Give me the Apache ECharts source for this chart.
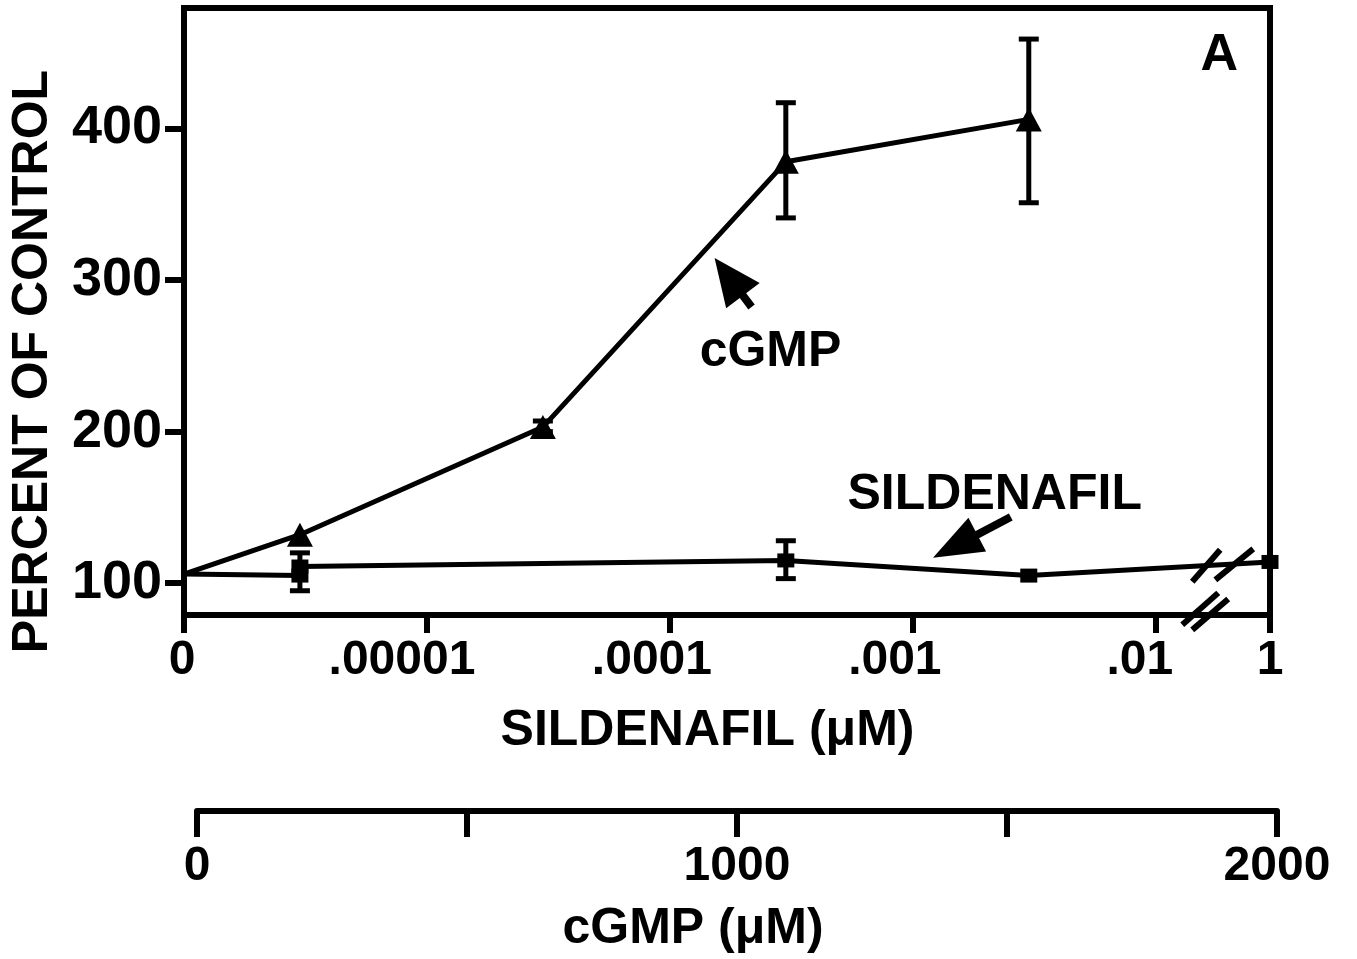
<!DOCTYPE html>
<html><head><meta charset="utf-8">
<script src="https://cdn.jsdelivr.net/npm/echarts@6/dist/echarts.min.js"></script>
<style>html,body{margin:0;padding:0;background:#fff}#c{width:1357px;height:959px}</style>
</head><body><div id="c"></div>
<script>
// ---------- data ----------
const sildTickConc   = [0, 1e-5, 1e-4, 1e-3, 1e-2, 1];
const sildTickLabels = ['0', '.00001', '.0001', '.001', '.01', '1'];
const yTicks = [100, 200, 300, 400];

const cgmpConc    = [0, 3e-6, 3e-5, 3e-4, 3e-3];
const cgmpMean    = [106, 132, 203, 378, 406];
const cgmpErrLow  = [null, null, 200, 341, 351];
const cgmpErrHigh = [null, null, 207, 417, 459];

const sildConc    = [0, 3e-6, 3e-6, 3e-4, 3e-3, 1];
const sildMean    = [106, 105, 111, 115, 105, 114];
const sildErrLow  = [null, 95, null, 103, null, null];
const sildErrHigh = [null, 120, null, 128, null, null];

const cgmpAxisTicks  = [0, 500, 1000, 1500, 2000];
const cgmpAxisLabels = [0, 1000, 2000];

// ---------- axis mapping (broken log axis) ----------
const X_ZERO = -6, X_ONE = -1.53;
function xpos(c) { return c === 0 ? X_ZERO : (c >= 1 ? X_ONE : Math.log10(c)); }

const FONT = '"Liberation Sans", Arial, Helvetica, sans-serif';
const BLACK = '#000';
const labelShift = [2, 25, 18, 18, 16, 0];
const rich = {};
labelShift.forEach((s, i) => {
  rich['s' + i] = {fontSize: 48, fontWeight: 'bold', fontFamily: FONT, color: BLACK, padding: [0, 2 * s, 0, 0]};
});

function lineData(conc, mean) {
  return conc.map((c, i) => c === 0 ? {value: [xpos(c), mean[i]], symbol: 'none'} : [xpos(c), mean[i]]);
}
function errData(conc, lo, hi) {
  const out = [];
  conc.forEach((c, i) => { if (lo[i] != null) out.push([xpos(c), lo[i], hi[i]]); });
  return out;
}
function errRender(params, api) {
  const x = api.value(0);
  const a = api.coord([x, api.value(1)]);
  const b = api.coord([x, api.value(2)]);
  const hw = 10;
  const st = {stroke: BLACK, lineWidth: 5};
  return {type: 'group', children: [
    {type: 'line', shape: {x1: a[0], y1: a[1], x2: b[0], y2: b[1]}, style: st},
    {type: 'line', shape: {x1: a[0] - hw, y1: a[1], x2: a[0] + hw, y2: a[1]}, style: st},
    {type: 'line', shape: {x1: b[0] - hw, y1: b[1], x2: b[0] + hw, y2: b[1]}, style: st}
  ]};
}

const chart = echarts.init(document.getElementById('c'), null, {renderer: 'canvas'});
const axisFont = {fontSize: 48, fontWeight: 'bold', fontFamily: FONT, color: BLACK};
const titleFont = {fontSize: 50, fontWeight: 'bold', fontFamily: FONT, color: BLACK};

const option = {
  backgroundColor: '#fff',
  animation: false,
  grid: [
    {left: 181, top: 8, width: 1089, height: 607, show: true, borderColor: BLACK, borderWidth: 6, backgroundColor: 'transparent'},
    {left: 197, top: 700, width: 1080, height: 111, show: false}
  ],
  xAxis: [
    {
      type: 'value', gridIndex: 0, min: X_ZERO, max: X_ONE,
      axisLine: {show: true, onZero: false, lineStyle: {color: BLACK, width: 6}},
      axisTick: {show: true, length: 18, lineStyle: {color: BLACK, width: 6}, customValues: sildTickConc.map(xpos)},
      axisLabel: {
        show: true, margin: 22, customValues: sildTickConc.map(xpos), rich: rich,
        formatter: function (v) {
          const i = sildTickConc.findIndex(c => Math.abs(xpos(c) - v) < 1e-6);
          return i < 0 ? '' : '{s' + i + '|' + sildTickLabels[i] + '}';
        }
      },
      splitLine: {show: false},
      name: 'SILDENAFIL (\u03bcM)', nameLocation: 'middle', nameGap: 91,
      nameTextStyle: Object.assign({}, titleFont, {padding: [0, 39, 0, 0]})
    },
    {
      type: 'value', gridIndex: 1, min: 0, max: 2000, position: 'bottom',
      axisLine: {show: true, onZero: false, lineStyle: {color: BLACK, width: 6}},
      axisTick: {show: true, length: 26, lineStyle: {color: BLACK, width: 6}, customValues: cgmpAxisTicks},
      axisLabel: Object.assign({show: true, margin: 32, customValues: cgmpAxisLabels, formatter: v => String(v)}, axisFont),
      splitLine: {show: false},
      name: 'cGMP (\u03bcM)', nameLocation: 'middle', nameGap: 93,
      nameTextStyle: Object.assign({}, titleFont, {padding: [0, 88, 0, 0]})
    }
  ],
  yAxis: [
    {
      type: 'value', gridIndex: 0, min: 79, max: 479.5,
      axisLine: {show: true, onZero: false, lineStyle: {color: BLACK, width: 6}},
      axisTick: {show: true, length: 19, lineStyle: {color: BLACK, width: 6}, customValues: yTicks},
      axisLabel: Object.assign({show: true, margin: 22, customValues: yTicks}, axisFont, {fontSize: 54}),
      splitLine: {show: false},
      name: 'PERCENT OF CONTROL', nameLocation: 'middle', nameGap: 126,
      nameTextStyle: Object.assign({}, titleFont, {padding: [0, 100, 0, 0]})
    },
    {type: 'value', gridIndex: 1, show: false, min: 0, max: 1}
  ],
  series: [
    {
      name: 'cGMP', type: 'line', xAxisIndex: 0, yAxisIndex: 0,
      data: lineData(cgmpConc, cgmpMean),
      symbol: 'triangle', symbolSize: [26, 24], showAllSymbol: true,
      lineStyle: {color: BLACK, width: 5}, itemStyle: {color: BLACK}, z: 3
    },
    {
      name: 'Sildenafil', type: 'line', xAxisIndex: 0, yAxisIndex: 0,
      data: lineData(sildConc, sildMean),
      symbol: 'rect', symbolSize: [17, 14], showAllSymbol: true,
      lineStyle: {color: BLACK, width: 5}, itemStyle: {color: BLACK}, z: 3
    },
    {
      name: 'cGMP SEM', type: 'custom', xAxisIndex: 0, yAxisIndex: 0,
      data: errData(cgmpConc, cgmpErrLow, cgmpErrHigh), renderItem: errRender,
      encode: {x: 0, y: [1, 2]}, z: 2
    },
    {
      name: 'Sildenafil SEM', type: 'custom', xAxisIndex: 0, yAxisIndex: 0,
      data: errData(sildConc, sildErrLow, sildErrHigh), renderItem: errRender,
      encode: {x: 0, y: [1, 2]}, z: 2
    }
  ]
};
chart.setOption(option);

// ---------- annotations (positioned in data coordinates) ----------
function P(d) { return chart.convertToPixel({gridIndex: 0}, d); }
function arrow(tipD, tailD, L, W, sw) {
  const T = P(tipD), S = P(tailD);
  const dx = T[0] - S[0], dy = T[1] - S[1], len = Math.hypot(dx, dy);
  const ux = dx / len, uy = dy / len, nx = -uy, ny = ux;
  const B = [T[0] - ux * L, T[1] - uy * L];
  return [
    {type: 'line', shape: {x1: S[0], y1: S[1], x2: B[0] + ux * 4, y2: B[1] + uy * 4}, style: {stroke: BLACK, lineWidth: sw}, z: 10},
    {type: 'polygon', shape: {points: [T, [B[0] + nx * W / 2, B[1] + ny * W / 2], [B[0] - nx * W / 2, B[1] - ny * W / 2]]}, style: {fill: BLACK}, z: 10}
  ];
}
function slash(a, b) {
  const A = P(a), B = P(b);
  return {type: 'line', shape: {x1: A[0], y1: A[1], x2: B[0], y2: B[1]}, style: {stroke: BLACK, lineWidth: 6}, z: 10};
}
function label(text, d, size) {
  const p = P(d);
  return {type: 'text', x: p[0], y: p[1], z: 10, style: {text: text, fill: BLACK, font: 'bold ' + size + 'px ' + FONT, textAlign: 'center', textVerticalAlign: 'middle'}};
}
const g = [].concat(
  arrow([-3.816, 314.5], [-3.664, 282.2], 47, 42, 8),
  arrow([-2.917, 116.7], [-2.597, 143.7], 50, 38, 8),
  [
    slash([-1.850, 100.9], [-1.735, 122.0]),
    slash([-1.755, 102.2], [-1.599, 122.6]),
    slash([-1.891, 72.5], [-1.743, 93.6]),
    slash([-1.850, 69.2], [-1.702, 89.6]),
    label('cGMP', [-3.586, 252.5], 50),
    label('SILDENAFIL', [-2.663, 158.2], 50),
    label('A', [-1.739, 448.3], 52)
  ]
);
chart.setOption({graphic: g});
</script></body></html>
